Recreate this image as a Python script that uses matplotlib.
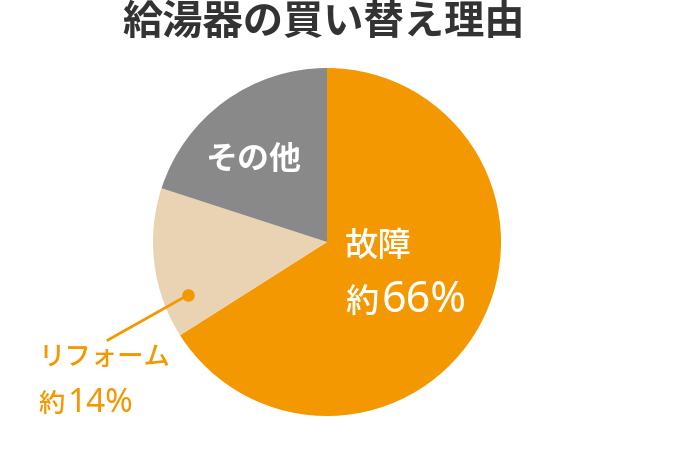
import matplotlib
matplotlib.use("Agg")
import matplotlib.pyplot as plt

plt.rcParams["font.family"] = ["Noto Sans CJK JP", "DejaVu Sans"]

title = "給湯器の買い替え理由"
labels = ["故障", "リフォーム", "その他"]
shares = [66, 14, 20]
colors = ["#F39800", "#EAD3B3", "#898989"]

W, H = 680, 456
fig = plt.figure(figsize=(W / 100, H / 100), dpi=100)
ax = fig.add_axes([0, 0, 1, 1])

cx, cy, r = 327, H - 243, 174
ax.pie(shares, colors=colors, startangle=90, counterclock=False,
       center=(cx, cy), radius=r, wedgeprops=dict(linewidth=0))
ax.set_xlim(0, W)
ax.set_ylim(0, H)
ax.set_aspect("equal")
ax.axis("off")

def py(y):
    return H - y

def pct_label(x, base, share, ks, ds, color):
    # "約" in kanji size, then the number in a bigger font
    ax.text(x, py(base), "約", ha="left", va="baseline", fontsize=ks,
            color=color, fontweight="medium")
    ax.text(x + ks * 100 / 72 + 3, py(base), f"{share}%", ha="left",
            va="baseline", fontsize=ds, color=color, fontweight="medium",
            family="Noto Sans")

ax.text(324, py(22), title, ha="center", va="center", fontsize=29,
        fontweight="bold", color="#333333")

ax.text(345, py(246), labels[0], ha="left", va="center", fontsize=24,
        color="white", fontweight="medium")
pct_label(345, 312, shares[0], 24, 31, "white")
ax.text(253, py(160), labels[2], ha="center", va="center", fontsize=23,
        color="white", fontweight="bold")

ax.plot([188, 108], [py(296), py(341)], color="#F39800", lw=2)
ax.plot([188], [py(296)], "o", color="#F39800", ms=8)
ax.text(38, py(357), labels[1], ha="left", va="center", fontsize=19,
        color="#F39800", fontweight="medium")
pct_label(38, 412, shares[1], 19, 24, "#F39800")

fig.savefig("out.png", dpi=100)
